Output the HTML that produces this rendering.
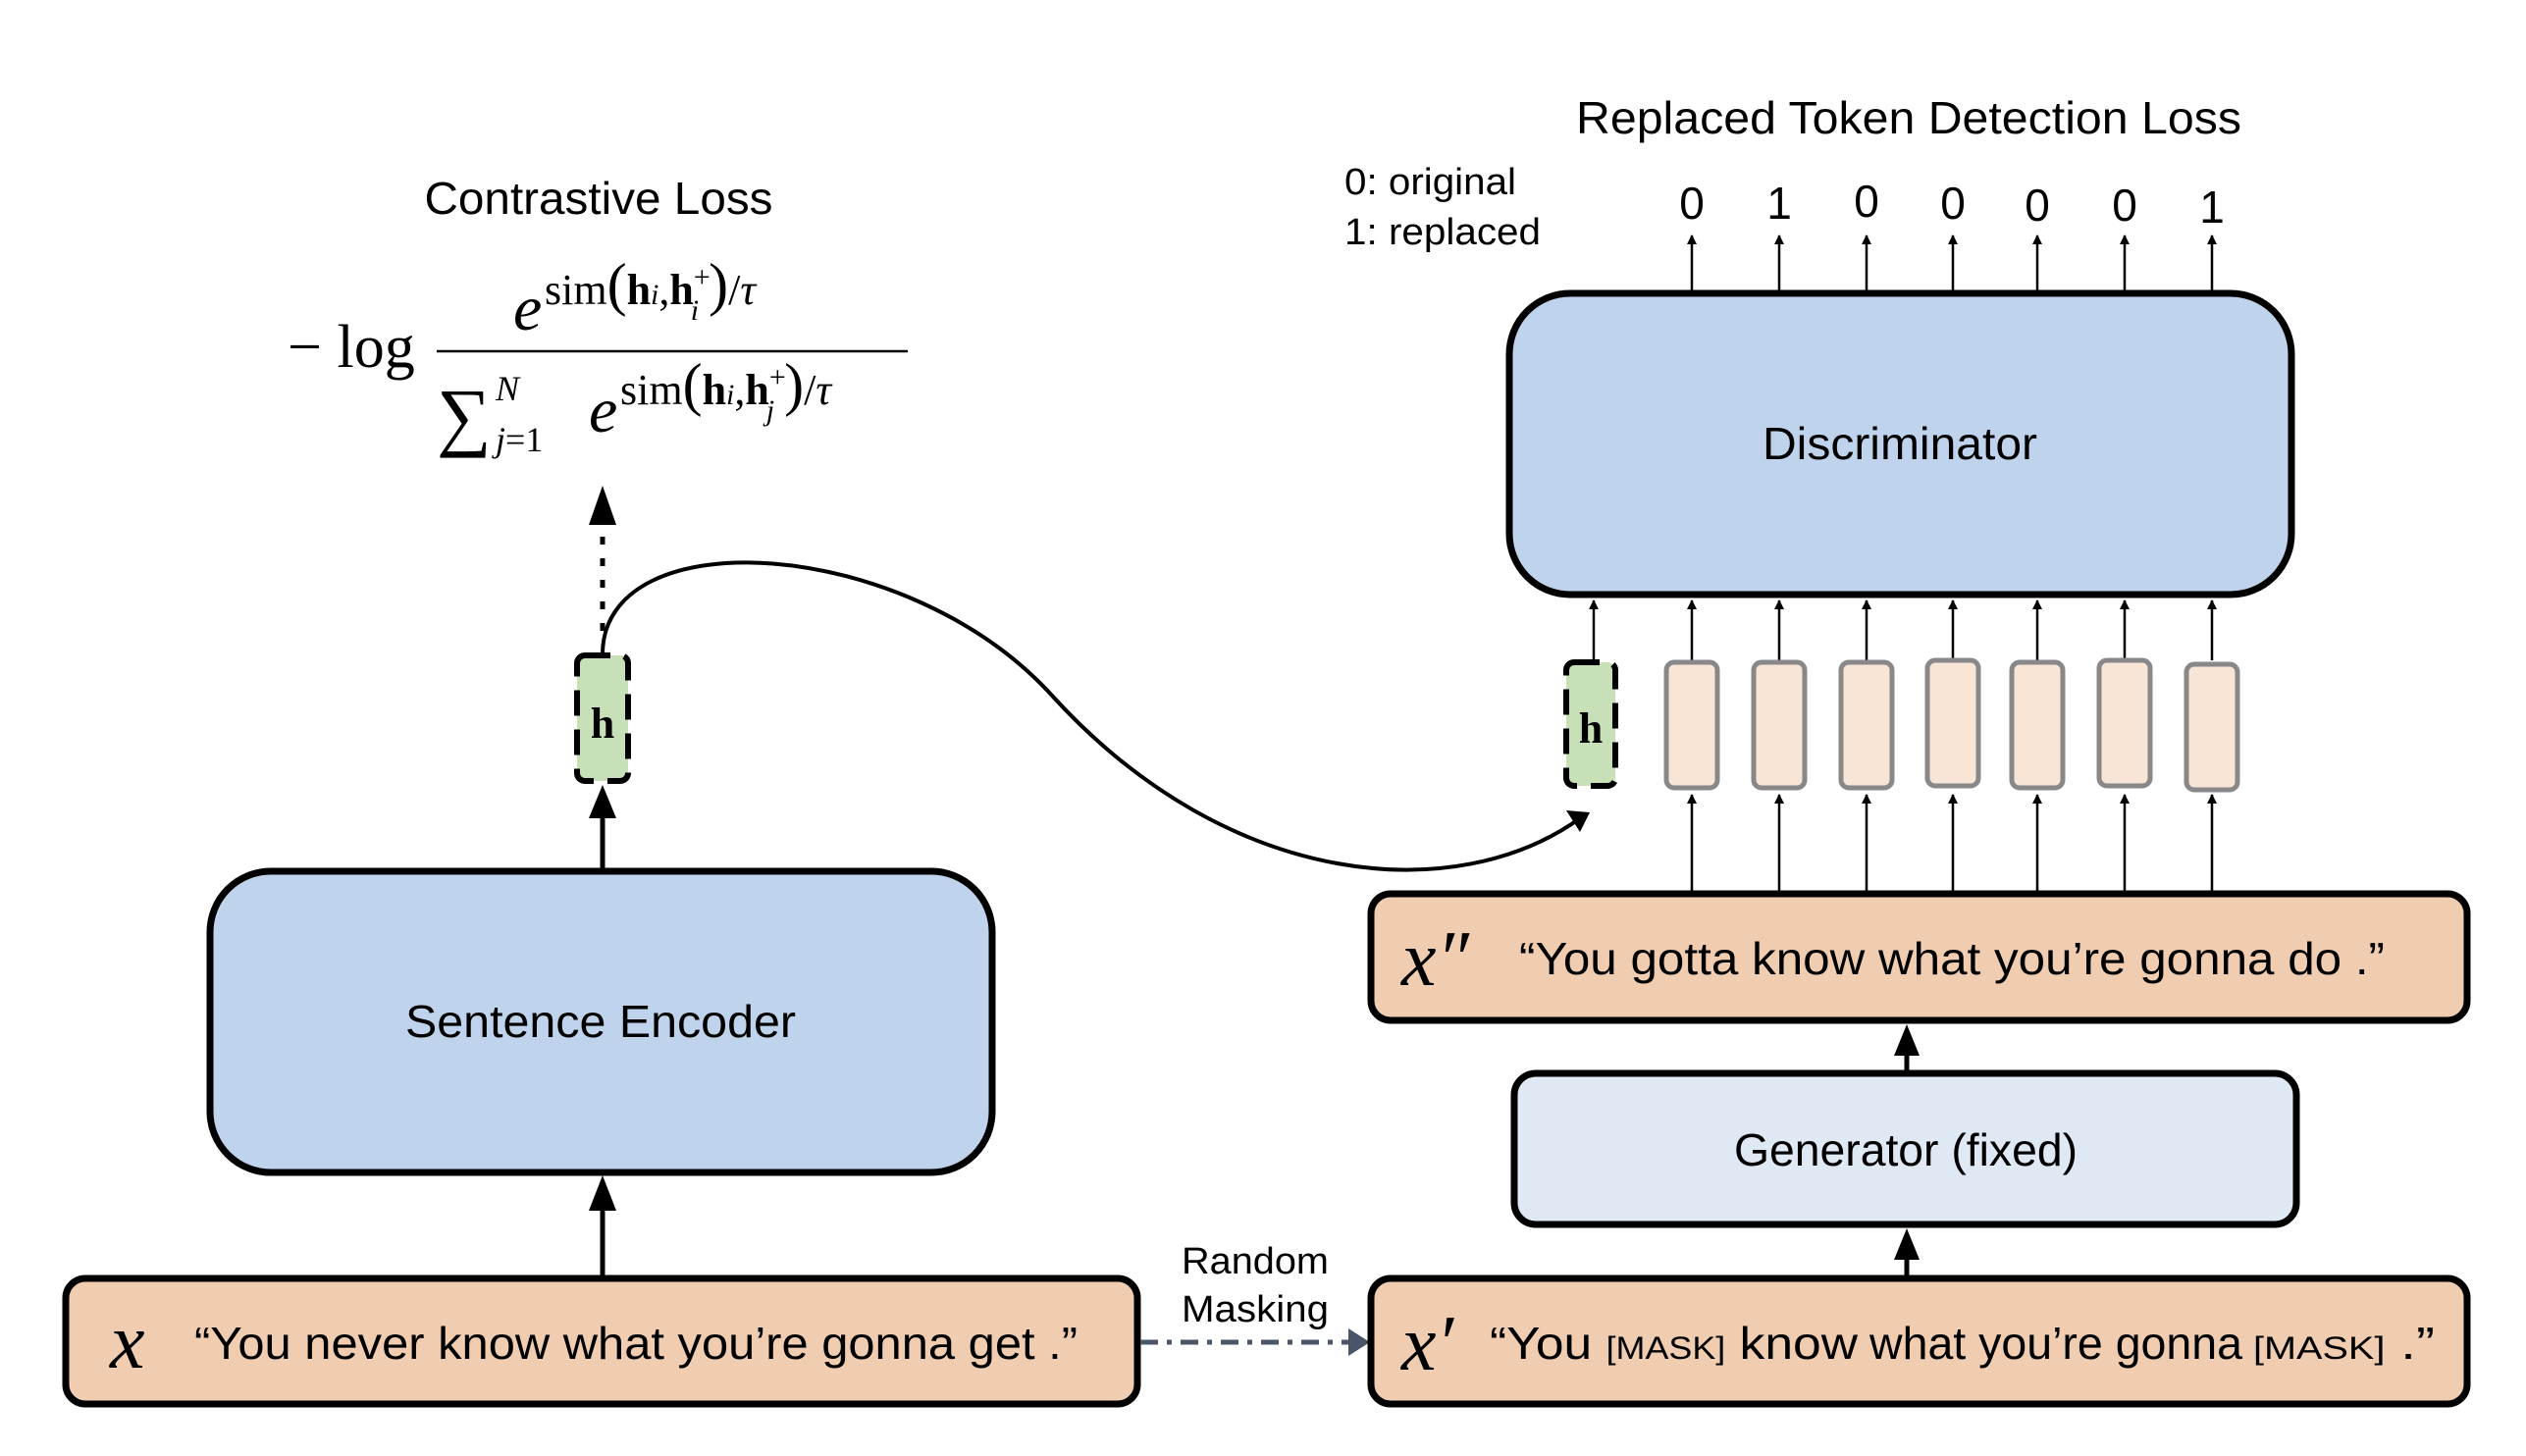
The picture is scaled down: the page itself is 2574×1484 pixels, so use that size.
<!DOCTYPE html>
<html><head><meta charset="utf-8"><style>
html,body{margin:0;padding:0;background:#fff;}
svg{display:block;}
.s{font-family:"Liberation Sans",sans-serif;fill:#000;}
.m{font-family:"Liberation Serif",serif;fill:#000;}
</style></head><body>
<svg width="2574" height="1484" viewBox="0 0 2574 1484" xmlns="http://www.w3.org/2000/svg">
<defs>
<marker id="a" markerWidth="10" markerHeight="10" refX="9" refY="5" orient="auto" markerUnits="userSpaceOnUse" viewBox="0 0 10 10"><path d="M0,0 L10,5 L0,10 z" fill="#000"/></marker>
</defs>

<text class="s" x="610" y="218" font-size="46" text-anchor="middle" textLength="355" lengthAdjust="spacingAndGlyphs">Contrastive Loss</text>
<text class="s" x="1945" y="136" font-size="46" text-anchor="middle" textLength="678" lengthAdjust="spacingAndGlyphs">Replaced Token Detection Loss</text>
<text class="s" x="1370" y="198" font-size="38" textLength="175" lengthAdjust="spacingAndGlyphs">0: original</text>
<text class="s" x="1370" y="249" font-size="38" textLength="200" lengthAdjust="spacingAndGlyphs">1: replaced</text>

<!-- formula -->
<text class="m" x="293" y="374" font-size="62">− log</text>
<line x1="445" y1="358" x2="925" y2="358" stroke="#000" stroke-width="2.5"/>
<text class="m" x="523" y="336" font-size="66" font-style="italic">e</text>
<text class="m" x="555" y="310" font-size="44">sim<tspan font-size="60">(</tspan><tspan font-weight="bold">h</tspan><tspan font-style="italic" font-size="30">i</tspan>,<tspan font-weight="bold">h</tspan><tspan font-size="30" dy="-18">+</tspan><tspan font-size="30" dx="-20" dy="34" font-style="italic">i</tspan><tspan dy="-16" font-size="60" dx="10">)</tspan>/<tspan font-style="italic">τ</tspan></text>
<text class="m" x="445" y="450" font-size="78">∑</text>
<text class="m" x="505" y="408" font-size="36" font-style="italic">N</text>
<text class="m" x="505" y="460" font-size="36"><tspan font-style="italic">j</tspan>=1</text>
<text class="m" x="600" y="440" font-size="66" font-style="italic">e</text>
<text class="m" x="632" y="412" font-size="44">sim<tspan font-size="60">(</tspan><tspan font-weight="bold">h</tspan><tspan font-style="italic" font-size="30">i</tspan>,<tspan font-weight="bold">h</tspan><tspan font-size="30" dy="-18">+</tspan><tspan font-size="30" dx="-20" dy="34" font-style="italic">j</tspan><tspan dy="-16" font-size="60" dx="10">)</tspan>/<tspan font-style="italic">τ</tspan></text>

<line x1="614" y1="643" x2="614" y2="535" stroke="#000" stroke-width="5" stroke-dasharray="8,14"/>
<path d="M600 535 L614 495 L628 535 z" fill="#000"/>

<rect x="588" y="668" width="52" height="128" rx="8" fill="#c8e0b8" stroke="#000" stroke-width="6" stroke-dasharray="26,14"/>
<text class="m" x="614" y="752" font-size="44" font-weight="bold" text-anchor="middle">h</text>

<rect x="214" y="888" width="797" height="307" rx="62" fill="#bfd4ec" stroke="#000" stroke-width="7"/>
<text class="s" x="612" y="1057" font-size="46" text-anchor="middle" textLength="398" lengthAdjust="spacingAndGlyphs">Sentence Encoder</text>

<line x1="614" y1="886" x2="614" y2="830" stroke="#000" stroke-width="5"/>
<path d="M600 834 L614 800 L628 834 z" fill="#000"/>
<line x1="614" y1="1303" x2="614" y2="1232" stroke="#000" stroke-width="5"/>
<path d="M600 1234 L614 1198 L628 1234 z" fill="#000"/>

<rect x="67" y="1303" width="1092" height="128" rx="20" fill="#f0cdb0" stroke="#000" stroke-width="7"/>
<text class="m" x="112" y="1394" font-size="80" font-style="italic">x</text>
<text class="s" x="198" y="1385" font-size="46" textLength="900" lengthAdjust="spacingAndGlyphs">“You never know what you’re gonna get .”</text>

<text class="s" x="1279" y="1298" font-size="38" text-anchor="middle" textLength="150" lengthAdjust="spacingAndGlyphs">Random</text>
<text class="s" x="1279" y="1347" font-size="38" text-anchor="middle" textLength="150" lengthAdjust="spacingAndGlyphs">Masking</text>
<line x1="1162" y1="1368" x2="1376" y2="1368" stroke="#4a5568" stroke-width="5" stroke-dasharray="18,9,5,9"/>
<path d="M1374 1354 L1396 1368 L1374 1382 z" fill="#4a5568"/>

<rect x="1397" y="1303" width="1117" height="128" rx="20" fill="#f0cdb0" stroke="#000" stroke-width="7"/>
<text class="m" x="1428" y="1396" font-size="80" font-style="italic">x′</text>
<text class="s" x="1518" y="1385" font-size="46" textLength="375" lengthAdjust="spacingAndGlyphs">“You <tspan font-size="32">[MASK]</tspan> know</text>
<text class="s" x="1905" y="1385" font-size="46" textLength="380" lengthAdjust="spacingAndGlyphs">what you’re gonna</text>
<text class="s" x="2296" y="1385" font-size="46" textLength="185" lengthAdjust="spacingAndGlyphs"><tspan font-size="32">[MASK]</tspan> .”</text>

<rect x="1543" y="1094" width="797" height="154" rx="22" fill="#dfe9f4" stroke="#000" stroke-width="7"/>
<text class="s" x="1942" y="1188" font-size="46" text-anchor="middle" textLength="350" lengthAdjust="spacingAndGlyphs">Generator (fixed)</text>
<line x1="1943" y1="1303" x2="1943" y2="1280" stroke="#000" stroke-width="5"/>
<path d="M1930 1284 L1943 1252 L1956 1284 z" fill="#000"/>
<line x1="1943" y1="1094" x2="1943" y2="1072" stroke="#000" stroke-width="5"/>
<path d="M1930 1076 L1943 1044 L1956 1076 z" fill="#000"/>

<rect x="1397" y="911" width="1117" height="129" rx="20" fill="#f0cdb0" stroke="#000" stroke-width="7"/>
<text class="m" x="1428" y="1004" font-size="80" font-style="italic">x″</text>
<text class="s" x="1548" y="993" font-size="46" textLength="882" lengthAdjust="spacingAndGlyphs">“You gotta know what you’re gonna do .”</text>

<rect x="1538" y="299" width="797" height="307" rx="62" fill="#bfd4ec" stroke="#000" stroke-width="7"/>
<text class="s" x="1936" y="468" font-size="46" text-anchor="middle" textLength="280" lengthAdjust="spacingAndGlyphs">Discriminator</text>

<rect x="1596" y="675" width="50" height="126" rx="8" fill="#c8e0b8" stroke="#000" stroke-width="6" stroke-dasharray="26,14"/>
<text class="m" x="1621" y="757" font-size="44" font-weight="bold" text-anchor="middle">h</text>
<line x1="1624" y1="673" x2="1624" y2="612" stroke="#000" stroke-width="2.5" marker-end="url(#a)"/>

<g stroke="#000" stroke-width="2.5">
<line x1="1724" y1="911" x2="1724" y2="810" marker-end="url(#a)"/>
<line x1="1813" y1="911" x2="1813" y2="810" marker-end="url(#a)"/>
<line x1="1902" y1="911" x2="1902" y2="810" marker-end="url(#a)"/>
<line x1="1990" y1="911" x2="1990" y2="810" marker-end="url(#a)"/>
<line x1="2076" y1="911" x2="2076" y2="810" marker-end="url(#a)"/>
<line x1="2165" y1="911" x2="2165" y2="810" marker-end="url(#a)"/>
<line x1="2254" y1="911" x2="2254" y2="810" marker-end="url(#a)"/>
<line x1="1724" y1="673" x2="1724" y2="612" marker-end="url(#a)"/>
<line x1="1813" y1="673" x2="1813" y2="612" marker-end="url(#a)"/>
<line x1="1902" y1="673" x2="1902" y2="612" marker-end="url(#a)"/>
<line x1="1990" y1="673" x2="1990" y2="612" marker-end="url(#a)"/>
<line x1="2076" y1="673" x2="2076" y2="612" marker-end="url(#a)"/>
<line x1="2165" y1="673" x2="2165" y2="612" marker-end="url(#a)"/>
<line x1="2254" y1="673" x2="2254" y2="612" marker-end="url(#a)"/>
<line x1="1724" y1="299" x2="1724" y2="240" marker-end="url(#a)"/>
<line x1="1813" y1="299" x2="1813" y2="240" marker-end="url(#a)"/>
<line x1="1902" y1="299" x2="1902" y2="240" marker-end="url(#a)"/>
<line x1="1990" y1="299" x2="1990" y2="240" marker-end="url(#a)"/>
<line x1="2076" y1="299" x2="2076" y2="240" marker-end="url(#a)"/>
<line x1="2165" y1="299" x2="2165" y2="240" marker-end="url(#a)"/>
<line x1="2254" y1="299" x2="2254" y2="240" marker-end="url(#a)"/>
</g>
<g fill="#f8e5d6" stroke="#888" stroke-width="5">
<rect x="1698" y="675" width="52" height="128" rx="8"/>
<rect x="1787" y="675" width="52" height="128" rx="8"/>
<rect x="1876" y="675" width="52" height="128" rx="8"/>
<rect x="1964" y="673" width="52" height="128" rx="8"/>
<rect x="2050" y="675" width="52" height="128" rx="8"/>
<rect x="2139" y="673" width="52" height="128" rx="8"/>
<rect x="2228" y="677" width="52" height="128" rx="8"/>
</g>
<g class="s" font-size="46" text-anchor="middle">
<text x="1724" y="223">0</text><text x="1813" y="223">1</text><text x="1902" y="221">0</text>
<text x="1990" y="223">0</text><text x="2076" y="225">0</text><text x="2165" y="225">0</text><text x="2254" y="227">1</text>
</g>

<path d="M614 667 C614 528, 924 545, 1073 710 C1254 908, 1485 924, 1610 834" fill="none" stroke="#000" stroke-width="4"/>
<path d="M1596 826 L1620 828 L1610 848 z" fill="#000"/>
</svg>
</body></html>
